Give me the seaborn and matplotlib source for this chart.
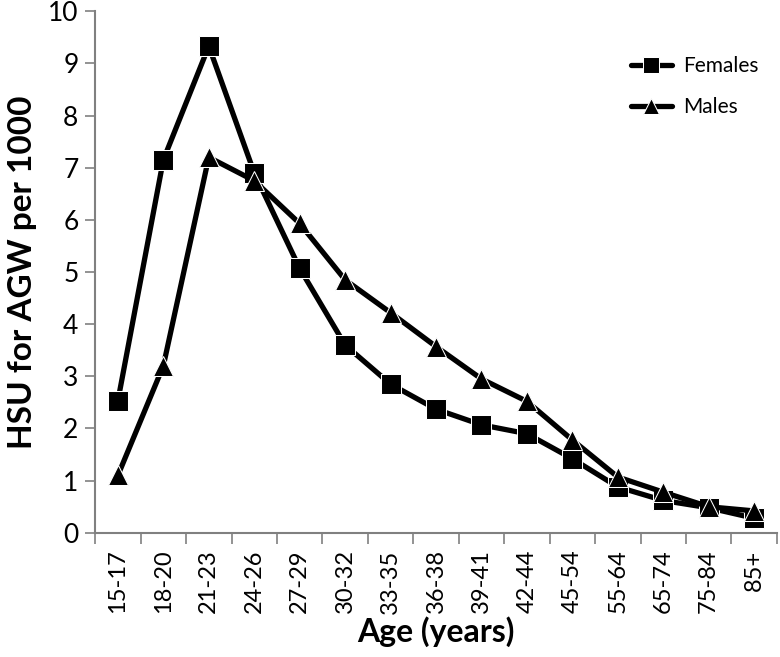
import pandas as pd
import numpy as np
import matplotlib.pyplot as plt
import seaborn as sns
from matplotlib.ticker import FixedLocator

age_groups = ["15-17", "18-20", "21-23", "24-26", "27-29", "30-32", "33-35",
              "36-38", "39-41", "42-44", "45-54", "55-64", "65-74", "75-84", "85+"]
females = [2.53, 7.15, 9.33, 6.90, 5.07, 3.60, 2.85, 2.37, 2.07, 1.90, 1.42, 0.88, 0.62, 0.48, 0.28]
males = [1.10, 3.20, 7.20, 6.75, 5.93, 4.85, 4.22, 3.57, 2.95, 2.52, 1.78, 1.07, 0.78, 0.50, 0.42]

data = pd.DataFrame({
    "pos": list(range(len(age_groups))) * 2,
    "Age": age_groups * 2,
    "HSU": females + males,
    "Sex": ["Females"] * len(age_groups) + ["Males"] * len(age_groups),
})

sns.set_style("white")
plt.rcParams["font.family"] = ["Lato", "DejaVu Sans"]
plt.rcParams["text.color"] = "black"
plt.rcParams["axes.labelcolor"] = "black"
plt.rcParams["xtick.labelcolor"] = "black"
plt.rcParams["ytick.labelcolor"] = "black"

fig = plt.figure(figsize=(7.8, 6.57), dpi=100)
ax = fig.add_axes([0.122, 0.189, 0.874, 0.794])

sns.lineplot(data=data, x="pos", y="HSU", hue="Sex", style="Sex",
             palette={"Females": "black", "Males": "black"},
             markers={"Females": "s", "Males": "^"}, dashes=False,
             linewidth=3.8, markersize=14, ax=ax)

ax.set_xlim(-0.5, len(age_groups) - 0.5)
ax.set_ylim(0, 10)
ax.set_yticks(range(0, 11))
ax.tick_params(axis="y", labelsize=19, length=7, width=1.2, color="#808080", labelcolor="black",
               direction="out", left=True, pad=5)
ax.set_xticks(range(len(age_groups)))
ax.set_xticklabels(age_groups, rotation=90, fontsize=17)
ax.tick_params(axis="x", which="major", length=0, pad=12, labelcolor="black")
ax.xaxis.set_minor_locator(FixedLocator(np.arange(-0.5, len(age_groups), 1)))
ax.tick_params(axis="x", which="minor", length=8, width=1.2, color="#808080", bottom=True, direction="out")

sns.despine(ax=ax)
for s in ["left", "bottom"]:
    ax.spines[s].set_color("#808080")
    ax.spines[s].set_linewidth(1.5)

ax.set_xlabel("Age (years)", fontsize=23, fontweight="bold", labelpad=2)
ax.set_ylabel("HSU for AGW per 1000", fontsize=24, fontweight="bold", labelpad=8)

leg = ax.legend(loc="upper right", bbox_to_anchor=(1.0, 0.95), frameon=False, fontsize=15,
                handlelength=2.0, labelspacing=1.0, handletextpad=0.5)
for h in leg.legend_handles:
    h.set_linewidth(3.8)
    h.set_markersize(11)
for t in leg.get_texts():
    t.set_color("black")

fig.savefig("out.png", dpi=100)
